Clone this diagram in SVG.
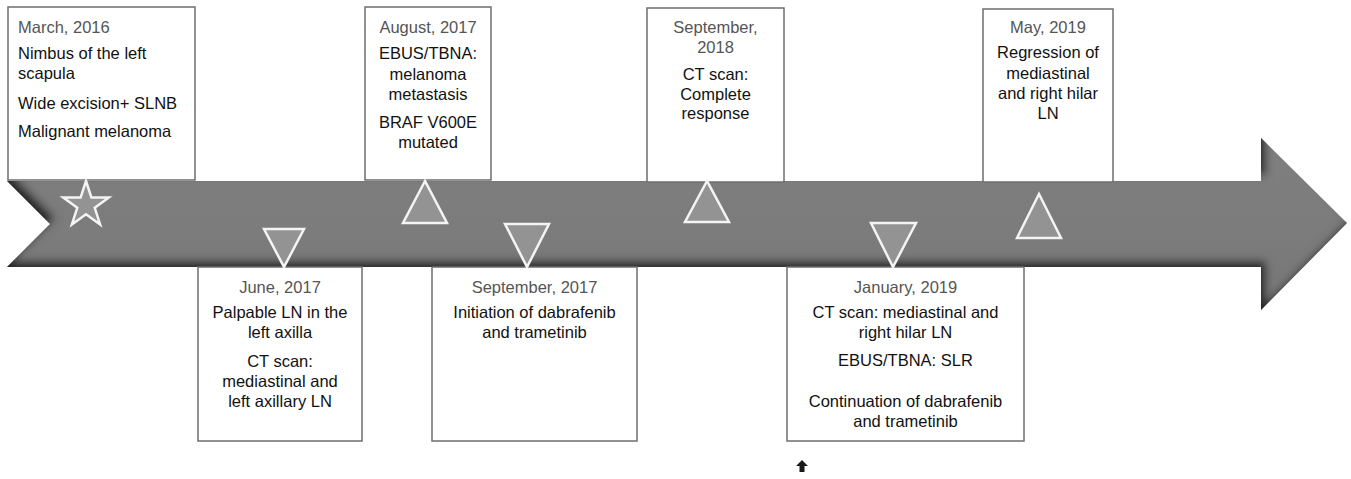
<svg xmlns="http://www.w3.org/2000/svg" width="1351" height="479" viewBox="0 0 1351 479">
<style>
.box{fill:#fff;stroke:#6e6e6e;stroke-width:1.5}
.t{font-family:"Liberation Sans",Arial,sans-serif;font-size:16.5px;fill:#111}
.d{fill:#555}
.c{text-anchor:middle}
.mk{fill:#939393;stroke:#f4f4f4;stroke-width:2.5;stroke-linejoin:miter}
</style>
<defs>
<linearGradient id="body" x1="0" y1="0" x2="0" y2="1">
<stop offset="0" stop-color="#808080"/>
<stop offset="1" stop-color="#777777"/>
</linearGradient>
<filter id="inner" x="-5%" y="-30%" width="110%" height="160%">
<feComponentTransfer in="SourceAlpha"><feFuncA type="table" tableValues="1 0"/></feComponentTransfer>
<feGaussianBlur stdDeviation="4"/>
<feOffset dx="5" dy="-6" result="off"/>
<feFlood flood-color="#000" flood-opacity="0.9"/>
<feComposite in2="off" operator="in"/>
<feComposite in2="SourceAlpha" operator="in" result="sh"/>
<feMerge><feMergeNode in="SourceGraphic"/><feMergeNode in="sh"/></feMerge>
</filter>
</defs>
<rect width="1351" height="479" fill="#fff"/>
<g id="timeline-arrow">
<path d="M7,181 L1261,181 L1261,138 L1347,223 L1261,310 L1261,267 L7,267 L50,224 Z" fill="url(#body)" filter="url(#inner)"/>
</g>
<g id="connectors"></g>
<g id="n-mar2016">
<rect class="box" x="8" y="7" width="187" height="173"/>
<text class="t d" x="18" y="33">March, 2016</text>
<text class="t" x="18" y="59">Nimbus of the left</text>
<text class="t" x="18" y="79">scapula</text>
<text class="t" x="18" y="109">Wide excision+ SLNB</text>
<text class="t" x="18" y="137">Malignant melanoma</text>
</g>
<g id="n-aug2017">
<rect class="box" x="365" y="7" width="126" height="173"/>
<text class="t d c" x="428" y="33">August, 2017</text>
<text class="t c" x="428" y="59">EBUS/TBNA:</text>
<text class="t c" x="428" y="80">melanoma</text>
<text class="t c" x="428" y="100">metastasis</text>
<text class="t c" x="428" y="128">BRAF V600E</text>
<text class="t c" x="428" y="148">mutated</text>
</g>
<g id="n-sep2018">
<rect class="box" x="647" y="8" width="137" height="174"/>
<text class="t d c" x="715.5" y="33">September,</text>
<text class="t d c" x="715.5" y="53">2018</text>
<text class="t c" x="715.5" y="80">CT scan:</text>
<text class="t c" x="715.5" y="100">Complete</text>
<text class="t c" x="715.5" y="119">response</text>
</g>
<g id="n-may2019">
<rect class="box" x="983" y="9" width="130" height="173"/>
<text class="t d c" x="1048" y="33">May, 2019</text>
<text class="t c" x="1048" y="58">Regression of</text>
<text class="t c" x="1048" y="79">mediastinal</text>
<text class="t c" x="1048" y="99">and right hilar</text>
<text class="t c" x="1048" y="119">LN</text>
</g>
<g id="n-jun2017">
<rect class="box" x="198" y="267" width="164" height="174"/>
<text class="t d c" x="280" y="293">June, 2017</text>
<text class="t c" x="280" y="318">Palpable LN in the</text>
<text class="t c" x="280" y="338">left axilla</text>
<text class="t c" x="280" y="367">CT scan:</text>
<text class="t c" x="280" y="387">mediastinal and</text>
<text class="t c" x="280" y="407">left axillary LN</text>
</g>
<g id="n-sep2017">
<rect class="box" x="432" y="267" width="205" height="174"/>
<text class="t d c" x="534.5" y="293">September, 2017</text>
<text class="t c" x="534.5" y="318">Initiation of dabrafenib</text>
<text class="t c" x="534.5" y="338">and trametinib</text>
</g>
<g id="n-jan2019">
<rect class="box" x="787" y="267" width="237" height="174"/>
<text class="t d c" x="905.5" y="293">January, 2019</text>
<text class="t c" x="905.5" y="318">CT scan: mediastinal and</text>
<text class="t c" x="905.5" y="338">right hilar LN</text>
<text class="t c" x="905.5" y="366">EBUS/TBNA: SLR</text>
<text class="t c" x="905.5" y="407">Continuation of dabrafenib</text>
<text class="t c" x="905.5" y="427">and trametinib</text>
</g>
<g id="markers">
<polygon id="m-star" class="mk" points="86,181 91.41,197.56 108.83,197.58 94.75,207.84 100.11,224.42 86,214.2 71.89,224.42 77.25,207.84 63.17,197.58 80.59,197.56"/>
<polygon id="m-jun2017" class="mk" points="264,229 304,229 284,267"/>
<polygon id="m-aug2017" class="mk" points="425,181 403,223 447,223"/>
<polygon id="m-sep2017" class="mk" points="505,224 549,224 527,267"/>
<polygon id="m-sep2018" class="mk" points="707,181 685,222 729,222"/>
<polygon id="m-jan2019" class="mk" points="871,223 916,223 893,267"/>
<polygon id="m-may2019" class="mk" points="1039,194 1017,238 1061,238"/>
</g>
<g id="small-arrow">
<polygon points="802,460 796,466 799.5,466 799.5,472 804.5,472 804.5,466 808,466" fill="#1a1a1a"/>
</g>
</svg>
